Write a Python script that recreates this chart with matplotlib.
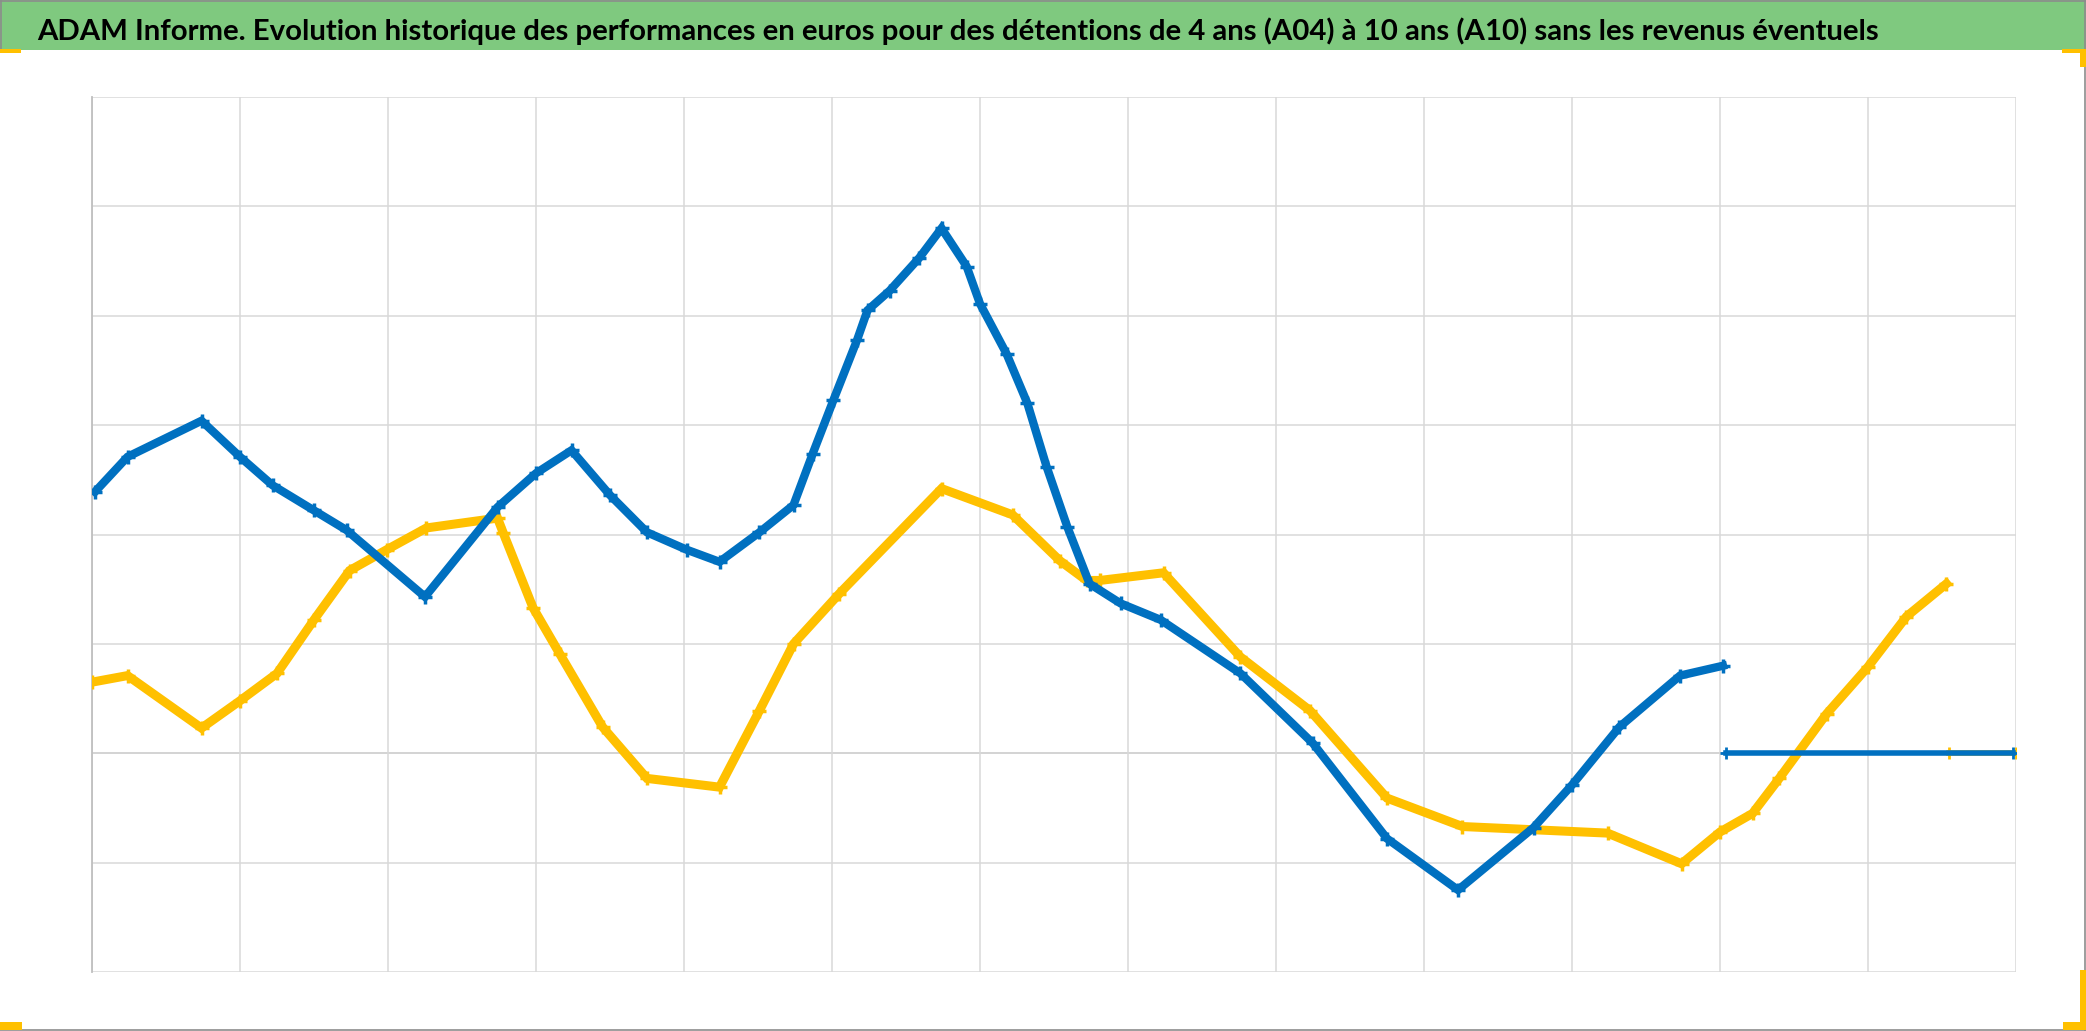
import matplotlib
matplotlib.use('Agg')
import matplotlib.pyplot as plt
from matplotlib.patches import Rectangle
from matplotlib.lines import Line2D

# figure size in pixels (dpi 100)
W, H = 2086, 1031

TITLE = ("ADAM Informe. Evolution historique des performances en euros pour des "
         "détentions de 4 ans (A04) à 10 ans (A10) sans les revenus éventuels")

# blue series (A04) - position on the category axis, performance in %
a04_x = [0.02, 0.24, 0.74, 1.00, 1.22, 1.50, 1.72, 2.25, 2.74, 3.00, 3.24, 3.50,
         3.75, 4.02, 4.24, 4.51, 4.74, 4.87, 5.01, 5.17, 5.24, 5.39, 5.59, 5.74,
         5.91, 6.00, 6.18, 6.32, 6.45, 6.59, 6.74, 6.95, 7.22, 7.76, 8.25, 8.75,
         9.23, 9.74, 10.00, 10.32, 10.73, 11.02]
a04_y = [23.9, 27.1, 30.4, 27.1, 24.5, 22.2, 20.4, 14.3, 22.5, 25.6, 27.7, 23.6,
         20.2, 18.6, 17.5, 20.2, 22.7, 27.4, 32.3, 37.8, 40.5, 42.3, 45.3, 48.0,
         44.5, 41.1, 36.5, 32.0, 26.2, 20.7, 15.5, 13.7, 12.2, 7.3, 0.9, -7.8,
         -12.5, -6.8, -2.9, 2.4, 7.1, 8.0]
# trailing zeros of A04 (no data yet)
a04_zero_x = [11.04, 12.98]
a04_zero_y = [0, 0]

# gold series (A10)
a10_x = [0.00, 0.24, 0.74, 1.00, 1.25, 1.50, 1.74, 1.99, 2.26, 2.74, 2.78, 2.98,
         3.16, 3.45, 3.75, 4.24, 4.51, 4.74, 5.05, 5.74, 6.22, 6.54, 6.72, 6.81,
         7.24, 7.76, 8.23, 8.75, 9.26, 10.24, 10.74, 11.00, 11.22, 11.40, 11.72,
         12.00, 12.26, 12.53]
a10_y = [6.5, 7.1, 2.3, 4.8, 7.3, 12.2, 16.7, 18.6, 20.6, 21.5, 20.1, 13.3,
         9.1, 2.4, -2.3, -3.1, 3.9, 10.0, 14.6, 24.2, 21.8, 17.6, 15.8, 15.8,
         16.5, 8.8, 3.9, -4.1, -6.7, -7.3, -10.1, -7.2, -5.5, -2.3, 3.6,
         7.9, 12.5, 15.5]
a10_zero_x = [12.55, 13.0]
a10_zero_y = [0, 0]

BLUE = '#0070C0'
GOLD = '#FFC000'
FRAME = '#8C8C8C'

fig = plt.figure(figsize=(W / 100, H / 100), dpi=100)

# green title band
fig.patches.append(Rectangle((0, 1 - 50 / H), 1, 50 / H, transform=fig.transFigure,
                             facecolor='#7FC97F', edgecolor='none', zorder=0))

# grey frame: top, right, bottom, and left only along the title band
for xs, ys in [([0, 1], [0.9995, 0.9995]),
               ([0.9996, 0.9996], [0, 1]),
               ([0, 1], [0.0008, 0.0008]),
               ([0.0004, 0.0004], [1 - 50 / H, 1])]:
    fig.lines.append(Line2D(xs, ys, transform=fig.transFigure, color=FRAME, lw=1.2))


def px_rect(x0, y0, x1, y1):
    # rectangle given in pixel coords measured from the top-left corner
    fig.patches.append(Rectangle((x0 / W, 1 - y1 / H), (x1 - x0) / W, (y1 - y0) / H,
                                 transform=fig.transFigure, facecolor=GOLD,
                                 edgecolor='none', zorder=2))


# selection handles in the corners
px_rect(0, 49, 21, 53)
px_rect(2062, 49, 2086, 53)
px_rect(2080, 49, 2086, 67)
px_rect(0, 1022, 22, 1030)
px_rect(2080, 970, 2086, 1030)
px_rect(2063, 1022, 2086, 1030)

title = fig.text(37 / W, 1 - 40 / H, TITLE, fontsize=24, fontweight='bold',
                 family=['Lato', 'Liberation Sans', 'DejaVu Sans'],
                 color='black', va='baseline', ha='left')

ax = fig.add_axes([92 / W, 1 - 972 / H, (2016 - 92) / W, (972 - 97) / H])
ax.set_xlim(0, 13)
ax.set_ylim(-20, 60)
ax.set_xticks(range(14))
ax.set_yticks(range(-20, 61, 10))
ax.grid(True, color='#D9D9D9', lw=1.1, zorder=0)
ax.tick_params(length=0, labelleft=False, labelbottom=False)
for side in ['top', 'right', 'bottom']:
    ax.spines[side].set_visible(False)
ax.spines['left'].set_color('#BFBFBF')
ax.spines['left'].set_linewidth(1.3)
ax.axhline(0, color='#BFBFBF', lw=1.3, zorder=1)

ax.plot(a10_zero_x, a10_zero_y, color=GOLD, lw=4, marker='+', ms=9, mew=2, zorder=2)
ax.plot(a10_x, a10_y, color=GOLD, lw=6.5, marker='+', ms=10, mew=2.5,
        solid_joinstyle='miter', zorder=3)
ax.plot(a04_zero_x, a04_zero_y, color=BLUE, lw=4, marker='+', ms=9, mew=2, zorder=4)
ax.plot(a04_x, a04_y, color=BLUE, lw=6, marker='+', ms=10, mew=2.5,
        solid_joinstyle='miter', zorder=5)

# stretch the title so it spans the same width as in the original
for _ in range(2):
    fig.canvas.draw()
    bb = title.get_window_extent()
    title.set_fontsize(title.get_fontsize() * 1842 / bb.width)

fig.savefig('out.png', dpi=100)
